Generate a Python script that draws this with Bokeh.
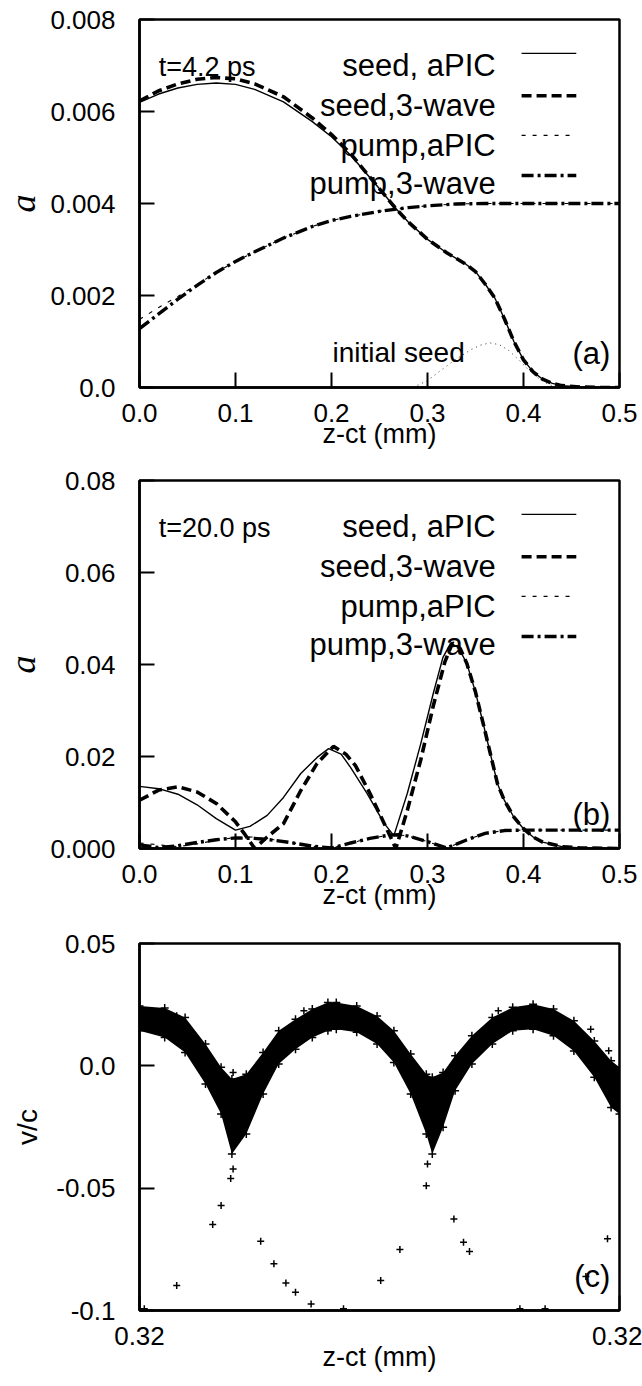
from bokeh.plotting import figure
from bokeh.layouts import column
from bokeh.models import Range1d, FixedTicker, Label
from bokeh.embed import file_html
from bokeh.resources import INLINE

# ---------------- Panel (a): t = 4.2 ps ----------------
a_seed_apic_x = [0.0, 0.02, 0.04, 0.06, 0.08, 0.10, 0.12, 0.15, 0.18, 0.20, 0.22, 0.25, 0.267, 0.28, 0.30,
                 0.32, 0.34, 0.35, 0.36, 0.37, 0.38, 0.39, 0.40, 0.41, 0.42, 0.43, 0.44, 0.46, 0.48, 0.50]
a_seed_apic_y = [0.00620, 0.00638, 0.00651, 0.00659, 0.00662, 0.00659, 0.00648, 0.00621, 0.00578, 0.00545,
                 0.00505, 0.00432, 0.00389, 0.00360, 0.00322, 0.00293, 0.00268, 0.00252, 0.00225, 0.00195,
                 0.00150, 0.00100, 0.00060, 0.00034, 0.00018, 0.00009, 0.00004, 0.00001, 0.0, 0.0]
a_seed_3w_x = a_seed_apic_x
a_seed_3w_y = [0.00623, 0.00645, 0.00660, 0.00670, 0.00674, 0.00671, 0.00660, 0.00632, 0.00586, 0.00550,
               0.00508, 0.00432, 0.00389, 0.00360, 0.00322, 0.00293, 0.00268, 0.00252, 0.00225, 0.00195,
               0.00150, 0.00100, 0.00060, 0.00034, 0.00018, 0.00009, 0.00004, 0.00001, 0.0, 0.0]
a_pump_x = [0.0, 0.02, 0.04, 0.06, 0.08, 0.10, 0.12, 0.15, 0.18, 0.20, 0.22, 0.25, 0.28, 0.30, 0.33, 0.36,
            0.40, 0.45, 0.50]
a_pump_3w_y = [0.00128, 0.00160, 0.00192, 0.00222, 0.00250, 0.00274, 0.00295, 0.00325, 0.00350, 0.00363,
               0.00372, 0.00383, 0.00391, 0.00395, 0.00399, 0.00400, 0.00400, 0.00400, 0.00400]
a_pump_apic_y = [0.00148, 0.00174, 0.00198, 0.00224, 0.00250, 0.00274, 0.00295, 0.00325, 0.00350, 0.00363,
                 0.00372, 0.00383, 0.00391, 0.00395, 0.00399, 0.00400, 0.00400, 0.00400, 0.00400]
a_init_x = [0.285, 0.30, 0.315, 0.33, 0.345, 0.355, 0.365, 0.375, 0.385, 0.395, 0.405, 0.415, 0.425, 0.435]
a_init_y = [0.0, 0.00015, 0.00039, 0.00062, 0.00082, 0.00092, 0.00097, 0.00093, 0.00080, 0.00060, 0.00039,
            0.00021, 0.00008, 0.0]

# ---------------- Panel (b): t = 20.0 ps ----------------
b_seed_apic_x = [0.0, 0.02, 0.04, 0.06, 0.08, 0.10, 0.115, 0.133, 0.15, 0.168, 0.185, 0.197, 0.21, 0.22,
                 0.237, 0.255, 0.265, 0.279, 0.293, 0.306, 0.316, 0.324, 0.332, 0.341, 0.35, 0.359, 0.373,
                 0.38, 0.39, 0.40, 0.41, 0.42, 0.44, 0.46, 0.50]
b_seed_apic_y = [0.0135, 0.0130, 0.0118, 0.0095, 0.0065, 0.0040, 0.0048, 0.0072, 0.0111, 0.0163, 0.0198,
                 0.0217, 0.0205, 0.0176, 0.0120, 0.0054, 0.0028, 0.0120, 0.0228, 0.0337, 0.0415, 0.0446,
                 0.0438, 0.0402, 0.0340, 0.0263, 0.0140, 0.0105, 0.0068, 0.0043, 0.0025, 0.0014, 0.0004,
                 0.0001, 0.0]
b_seed_3w_x = [0.0, 0.02, 0.04, 0.06, 0.08, 0.10, 0.11, 0.12, 0.133, 0.15, 0.168, 0.185, 0.202, 0.215,
               0.225, 0.24, 0.255, 0.267, 0.279, 0.293, 0.306, 0.318, 0.326, 0.334, 0.341, 0.35, 0.359,
               0.373, 0.38, 0.39, 0.40, 0.41, 0.42, 0.44, 0.46, 0.50]
b_seed_3w_y = [0.0105, 0.0127, 0.0134, 0.0123, 0.0098, 0.0058, 0.0030, 0.0, 0.0025, 0.0054, 0.0126,
               0.0185, 0.0222, 0.0205, 0.0180, 0.0120, 0.0054, 0.0, 0.0083, 0.0193, 0.0310, 0.0405,
               0.0447, 0.0435, 0.0402, 0.0340, 0.0263, 0.0140, 0.0105, 0.0068, 0.0043, 0.0025, 0.0014,
               0.0004, 0.0001, 0.0]
b_pump_x = [0.0, 0.02, 0.04, 0.06, 0.08, 0.10, 0.12, 0.14, 0.16, 0.18, 0.20, 0.22, 0.24, 0.26, 0.27,
            0.28, 0.30, 0.32, 0.34, 0.36, 0.38, 0.40, 0.45, 0.50]
b_pump_3w_y = [0.0008, 0.0002, 0.0006, 0.0013, 0.0019, 0.0023, 0.0022, 0.0018, 0.0012, 0.0005, 0.0001,
               0.0012, 0.0022, 0.0029, 0.0030, 0.0027, 0.0015, 0.0001, 0.0018, 0.0033, 0.0039, 0.0040,
               0.0040, 0.0040]
b_pump_apic_y = [0.0012, 0.0008, 0.0004, 0.0010, 0.0018, 0.0024, 0.0025, 0.0019, 0.0012, 0.0005, 0.0001,
                 0.0012, 0.0022, 0.0029, 0.0030, 0.0027, 0.0015, 0.0001, 0.0018, 0.0033, 0.0039, 0.0040,
                 0.0040, 0.0040]

# ---------------- Panel (c): v/c phase space ----------------
c_band_x = [0.31800, 0.31821, 0.31838, 0.31855, 0.31868, 0.31877, 0.31889, 0.31903, 0.31916, 0.31930,
            0.31944, 0.31957, 0.31964, 0.31981, 0.31998, 0.32012, 0.32026, 0.32039, 0.32044, 0.32053,
            0.32063, 0.32077, 0.32094, 0.32111, 0.32128, 0.32145, 0.32162, 0.32179, 0.32193, 0.32200]
c_band_hi = [0.0245, 0.0236, 0.0198, 0.0089, -0.0006, -0.0054, -0.0034, 0.0054, 0.0143, 0.0190,
             0.0232, 0.0259, 0.0259, 0.0245, 0.0204, 0.0143, 0.0048, -0.0034, -0.0047, -0.0027,
             0.0041, 0.0123, 0.0198, 0.0239, 0.0252, 0.0232, 0.0184, 0.0102, 0.0021, -0.0006]
c_band_lo = [0.0143, 0.0116, 0.0055, -0.0074, -0.0197, -0.0360, -0.0279, -0.0115, 0.0007, 0.0068,
             0.0116, 0.0143, 0.0150, 0.0137, 0.0089, 0.0014, -0.0115, -0.0279, -0.0360, -0.0251,
             -0.0102, 0.0007, 0.0089, 0.0143, 0.0150, 0.0123, 0.0061, -0.0047, -0.0170, -0.0197]
c_out_x = [0.31878, 0.31876, 0.31868, 0.31861, 0.31831, 0.31901, 0.31912, 0.31922, 0.31930, 0.31943,
           0.31804, 0.31970, 0.32001, 0.32017, 0.32040, 0.32039, 0.32062, 0.32070, 0.32075, 0.32190,
           0.32172, 0.32117, 0.32138, 0.31878, 0.31831, 0.32176, 0.32191, 0.31937, 0.32099]
c_out_y = [-0.0422, -0.0460, -0.0571, -0.0649, -0.0898, -0.0717, -0.0809, -0.0888, -0.0925, -0.0973,
           -0.0993, -0.0993, -0.0877, -0.0751, -0.0401, -0.0490, -0.0626, -0.0721, -0.0759, -0.0707,
           -0.0861, -0.0993, -0.0993, -0.0027, 0.0205, 0.0150, 0.0062, 0.0225, 0.0225]

# ticks / labels
ab_xticks = [0.0, 0.1, 0.2, 0.3, 0.4, 0.5]
ab_xlabels = ["0.0", "0.1", "0.2", "0.3", "0.4", "0.5"]
a_yticks = [0.0, 0.002, 0.004, 0.006, 0.008]
a_ylabels = ["0.0", "0.002", "0.004", "0.006", "0.008"]
b_yticks = [0.0, 0.02, 0.04, 0.06, 0.08]
b_ylabels = ["0.000", "0.02", "0.04", "0.06", "0.08"]
c_xticks = [0.318, 0.322]
c_xlabels = ["0.32", "0.32"]
c_yticks = [-0.1, -0.05, 0.0, 0.05]
c_ylabels = ["-0.1", "-0.05", "0.0", "0.05"]
legend_labels = ["seed, aPIC", "seed,3-wave", "pump,aPIC", "pump,3-wave"]

SANS = "Liberation Sans"
W = 642


def make_fig(height, top, bottom, xr, yr, xt, xl, yt, yl, ylabel, ylabel_font, ylabel_style,
             ylabel_size, ylab_standoff):
    p = figure(width=W, height=height, x_range=Range1d(*xr), y_range=Range1d(*yr),
               output_backend="svg", toolbar_location=None,
               min_border_left=139, min_border_right=23, min_border_top=top, min_border_bottom=bottom)
    p.grid.visible = False
    p.outline_line_color = "black"
    p.outline_line_width = 2.5
    p.outline_line_alpha = 1.0
    p.axis.axis_line_width = 2.5
    p.axis.major_tick_in = 15
    p.axis.major_tick_out = 0
    p.axis.major_tick_line_width = 2
    p.axis.minor_tick_line_color = None
    p.axis.major_label_text_font = SANS
    p.axis.major_label_text_font_size = "26px"
    p.axis.major_label_text_color = "black"
    p.axis.axis_label_text_color = "black"
    p.xaxis.ticker = FixedTicker(ticks=xt)
    p.xaxis.major_label_overrides = {t: s for t, s in zip(xt, xl)}
    p.yaxis.ticker = FixedTicker(ticks=yt)
    p.yaxis.major_label_overrides = {t: s for t, s in zip(yt, yl)}
    p.xaxis.major_label_standoff = 16
    p.yaxis.major_label_standoff = 24
    p.xaxis.axis_label = "z-ct (mm)"
    p.xaxis.axis_label_text_font = SANS
    p.xaxis.axis_label_text_font_style = "normal"
    p.xaxis.axis_label_text_font_size = "27px"
    p.xaxis.axis_label_standoff = -6
    p.yaxis.axis_label = ylabel
    p.yaxis.axis_label_text_font = ylabel_font
    p.yaxis.axis_label_text_font_style = ylabel_style
    p.yaxis.axis_label_text_font_size = ylabel_size
    p.yaxis.axis_label_standoff = ylab_standoff
    return p


def fx(p, f):
    return p.x_range.start + f * (p.x_range.end - p.x_range.start)


def fy(p, f):
    return p.y_range.start + f * (p.y_range.end - p.y_range.start)


styles = [dict(line_width=1.4, line_dash="solid"),
          dict(line_width=3.6, line_dash="10 5"),
          dict(line_width=1.1, line_dash="4 7"),
          dict(line_width=3.4, line_dash="12 4 3 4")]


def add_legend(p, tlabel):
    text_y = [0.875, 0.766, 0.658, 0.554]
    line_y = [0.908, 0.793, 0.685, 0.576]
    for lab, ty, ly, st in zip(legend_labels, text_y, line_y, styles):
        p.add_layout(Label(x=fx(p, 0.742), y=fy(p, ty), text=lab, text_align="right",
                           text_baseline="alphabetic", text_font=SANS, text_font_size="31px",
                           text_color="black"))
        p.line([fx(p, 0.796), fx(p, 0.910)], [fy(p, ly), fy(p, ly)], line_color="black", **st)
    p.add_layout(Label(x=fx(p, 0.040), y=fy(p, 0.872), text=tlabel, text_align="left",
                       text_baseline="alphabetic", text_font=SANS, text_font_size="27px",
                       text_color="black"))


def panel_tag(p, tag):
    p.add_layout(Label(x=fx(p, 0.981), y=fy(p, 0.092), text=tag, text_align="right",
                       text_baseline="alphabetic", text_font=SANS, text_font_size="31px",
                       text_color="black"))


# ---- figure (a)
pa = make_fig(465, 19, 78, (0.0, 0.5), (0.0, 0.008), ab_xticks, ab_xlabels, a_yticks, a_ylabels,
              "a", "Liberation Serif", "italic", "36px", 4)
pa.line(a_init_x, a_init_y, line_color="#333333", line_width=1.0, line_dash="1 4")
pa.line(a_pump_x, a_pump_apic_y, line_color="black", **styles[2])
pa.line(a_pump_x, a_pump_3w_y, line_color="black", **styles[3])
pa.line(a_seed_3w_x, a_seed_3w_y, line_color="black", **styles[1])
pa.line(a_seed_apic_x, a_seed_apic_y, line_color="black", **styles[0])
add_legend(pa, "t=4.2 ps")
panel_tag(pa, "(a)")
pa.add_layout(Label(x=fx(pa, 0.402), y=fy(pa, 0.095), text="initial seed", text_align="left",
                    text_baseline="alphabetic", text_font=SANS, text_font_size="28px",
                    text_color="black"))

# ---- figure (b)
pb = make_fig(463, 15, 80, (0.0, 0.5), (0.0, 0.08), ab_xticks, ab_xlabels, b_yticks, b_ylabels,
              "a", "Liberation Serif", "italic", "36px", 4)
pb.line(b_pump_x, b_pump_apic_y, line_color="black", **styles[2])
pb.line(b_pump_x, b_pump_3w_y, line_color="black", **styles[3])
pb.line(b_seed_3w_x, b_seed_3w_y, line_color="black", **styles[1])
pb.line(b_seed_apic_x, b_seed_apic_y, line_color="black", **styles[0])
add_legend(pb, "t=20.0 ps")
panel_tag(pb, "(b)")

# ---- figure (c)
pc = make_fig(458, 15, 76, (0.318, 0.322), (-0.1, 0.05), c_xticks, c_xlabels, c_yticks, c_ylabels,
              "v/c", SANS, "normal", "28px", 10)
pc.varea(x=c_band_x, y1=c_band_lo, y2=c_band_hi, fill_color="black")
pc.scatter(c_band_x, c_band_hi, marker="cross", size=8, line_color="black", line_width=1.5)
pc.scatter(c_band_x, c_band_lo, marker="cross", size=8, line_color="black", line_width=1.5)
pc.scatter(c_out_x, c_out_y, marker="cross", size=7, line_color="black", line_width=1.5)
panel_tag(pc, "(c)")

layout = column(pa, pb, pc, spacing=0)
open("out.html", "w").write(file_html(layout, INLINE))
